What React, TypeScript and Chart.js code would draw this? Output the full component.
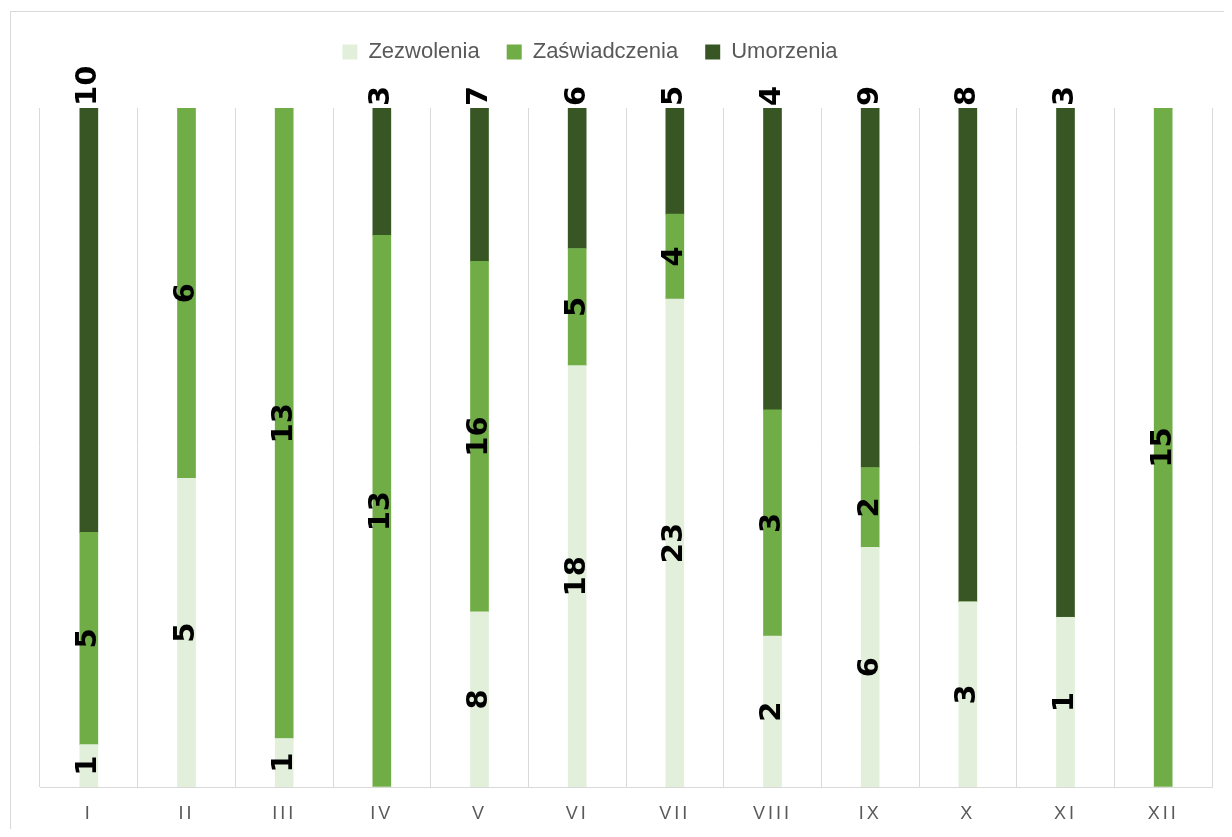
import React, { useEffect, useRef } from 'react';
import { Chart, CategoryScale, registerables } from 'chart.js';

// ---- data ----
const categories = ['I', 'II', 'III', 'IV', 'V', 'VI', 'VII', 'VIII', 'IX', 'X', 'XI', 'XII'];
const zezwolenia = [1, 5, 1, 0, 8, 18, 23, 2, 6, 3, 1, 0];
const zaswiadczenia = [5, 6, 13, 13, 16, 5, 4, 3, 2, 0, 0, 15];
const umorzenia = [10, 0, 0, 3, 7, 6, 5, 4, 9, 8, 3, 0];
const seriesNames = ['Zezwolenia', 'Zaświadczenia', 'Umorzenia'];

// ---- styles ----
const seriesColors = ['#E2EFDA', '#70AD47', '#375623'];

class SpacedCategoryScale extends CategoryScale {
  static id = 'spacedCategory';
  static defaults = CategoryScale.defaults;
  drawLabels(area: any) {
    const ctx: any = this.ctx;
    const prev = ctx.letterSpacing;
    ctx.letterSpacing = '3px';
    super.drawLabels(area);
    ctx.letterSpacing = prev || '0px';
  }
}

Chart.register(...registerables, SpacedCategoryScale as any);

const rawSeries = [zezwolenia, zaswiadczenia, umorzenia];
const totals = categories.map((_, i) => zezwolenia[i] + zaswiadczenia[i] + umorzenia[i]);
const toPct = (arr: number[]) => arr.map((v, i) => (totals[i] ? (v / totals[i]) * 100 : 0));

const segLabels = {
  id: 'segLabels',
  afterDatasetsDraw(chart: any) {
    const ctx = chart.ctx;
    ctx.save();
    ctx.font = 'bold 29px "DejaVu Sans"';
    ctx.fillStyle = '#000000';
    ctx.textBaseline = 'middle';
    rawSeries.forEach((vals, di) => {
      const meta = chart.getDatasetMeta(di);
      meta.data.forEach((el: any, i: number) => {
        const v = vals[i];
        if (!v) return;
        const { x, y, base } = el.getProps(['x', 'y', 'base'], true);
        ctx.save();
        if (di === 2) {
          ctx.translate(x, y - 2);
          ctx.rotate(-Math.PI / 2);
          ctx.textAlign = 'left';
        } else {
          ctx.translate(x, (y + base) / 2);
          ctx.rotate(-Math.PI / 2);
          ctx.textAlign = 'center';
        }
        ctx.fillText(String(v), 0, 0);
        ctx.restore();
      });
    });
    ctx.restore();
  },
};

const legendShift = {
  id: 'legendShift',
  afterLayout(chart: any) {
    const l = chart.legend;
    if (!l) return;
    const dx = -36;
    const dy = -35;
    l.left += dx;
    l.right += dx;
    l.top += dy;
    l.bottom += dy;
  },
};

export default function App() {
  const ref = useRef<HTMLCanvasElement | null>(null);
  useEffect(() => {
    if (!ref.current) return;
    Chart.defaults.font.family = '"Liberation Sans", Arial, sans-serif';
    const chart = new Chart(ref.current, {
      type: 'bar',
      data: {
        labels: categories,
        datasets: rawSeries.map((arr, di) => ({
          label: seriesNames[di],
          data: toPct(arr),
          backgroundColor: seriesColors[di],
          borderWidth: 0,
          barThickness: 18,
        })),
      },
      options: {
        animation: false,
        responsive: false,
        events: [],
        layout: { padding: { left: 29, right: 12, top: 37, bottom: 0 } },
        plugins: {
          legend: {
            position: 'top',
            labels: {
              boxWidth: 15,
              boxHeight: 15,
              padding: 27,
              color: '#595959',
              font: { size: 22, family: '"Liberation Sans", Arial, sans-serif' },
            },
          },
          tooltip: { enabled: false },
        },
        scales: {
          x: {
            type: 'spacedCategory' as any,
            stacked: true,
            grid: { color: '#D9D9D9', offset: true, drawTicks: false, lineWidth: 1 },
            border: { color: '#D9D9D9', width: 1 },
            ticks: {
              color: '#595959',
              font: { size: 18 },
              padding: 16,
              maxRotation: 0,
              autoSkip: false,
            },
            afterFit: (scale: any) => {
              scale.height = 42;
            },
          },
          y: {
            display: false,
            stacked: true,
            min: 0,
            max: 100,
          },
        },
      },
      plugins: [segLabels, legendShift],
    });
    return () => chart.destroy();
  }, []);

  return (
    <div style={{ paddingTop: 3, paddingLeft: 2 }}>
      <div
        style={{
          borderLeft: '1px solid #D9D9D9',
          borderTop: '1px solid #D9D9D9',
          width: 1213,
          height: 817,
        }}
      >
        <canvas ref={ref} width={1213} height={817} style={{ display: 'block', width: 1213, height: 817 }} />
      </div>
    </div>
  );
}
